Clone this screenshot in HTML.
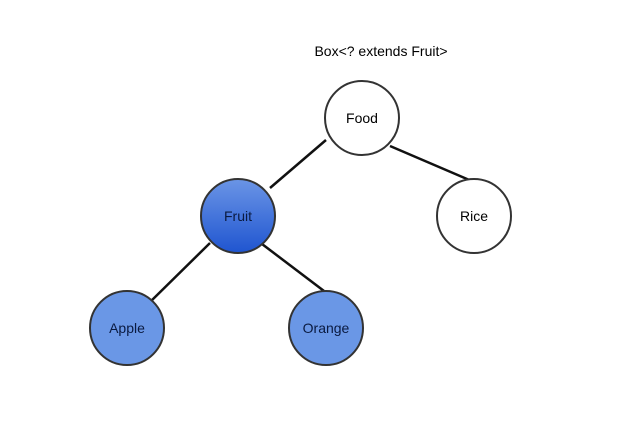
<!DOCTYPE html>
<html><head><style>body{margin:0;background:#fff}svg{display:block}</style></head><body>
<svg width="640" height="438" xmlns="http://www.w3.org/2000/svg" font-family="Liberation Sans, sans-serif">
<defs><linearGradient id="g" x1="0" y1="0" x2="0" y2="1"><stop offset="0" stop-color="#6b95e6"/><stop offset="1" stop-color="#1f55d0"/></linearGradient></defs>
<g stroke="#111" stroke-width="2.5">
<line x1="326" y1="140" x2="270" y2="188"/>
<line x1="390" y1="146" x2="474" y2="182"/>
<line x1="210" y1="243" x2="148" y2="304"/>
<line x1="262" y1="244" x2="324" y2="291"/>
</g>
<g stroke="#333" stroke-width="2">
<circle cx="362" cy="118" r="37" fill="#fff"/>
<circle cx="474" cy="216" r="37" fill="#fff"/>
<circle cx="238" cy="216" r="37" fill="url(#g)"/>
<circle cx="127" cy="328" r="37" fill="#6a97e6"/>
<circle cx="326" cy="328" r="37" fill="#6a97e6"/>
</g>
<g font-size="14" text-anchor="middle" fill="#000">
<text x="381" y="56">Box&lt;? extends Fruit&gt;</text>
<text x="362" y="123">Food</text>
<text x="474" y="221">Rice</text>
<text x="238" y="221" fill="#0a1a40">Fruit</text>
<text x="127" y="333" fill="#0a1a40">Apple</text>
<text x="326" y="333" fill="#0a1a40">Orange</text>
</g>
</svg>
</body></html>
